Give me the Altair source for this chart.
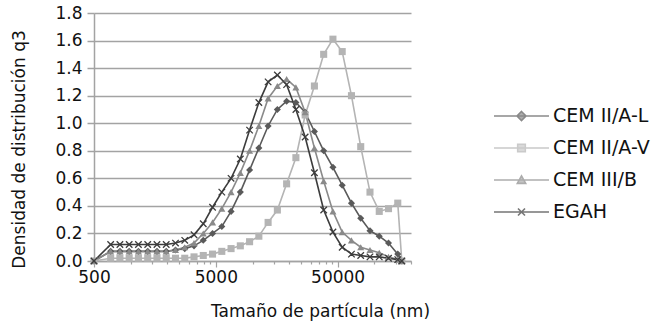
import altair as alt
import pandas as pd

# particle size (nm) - shared x grid
size_nm = [500, 685, 816, 972, 1158, 1380, 1644, 1958, 2333, 2779, 3311,
           3944, 4699, 5598, 6669, 7944, 9464, 11275, 13432, 16001, 19062,
           22709, 27053, 32228, 38394, 45738, 54488, 64912, 77330, 92123,
           109747, 130741, 155753, 168000]

series_names = ["CEM II/A-L", "CEM II/A-V", "CEM III/B", "EGAH"]

cem_ii_a_l = [0, 0.07, 0.07, 0.07, 0.07, 0.07, 0.07, 0.07, 0.08, 0.09, 0.11,
              0.15, 0.20, 0.25, 0.36, 0.50, 0.66, 0.82, 0.98, 1.10, 1.16,
              1.15, 1.08, 0.94, 0.80, 0.68, 0.55, 0.42, 0.31, 0.22, 0.18,
              0.13, 0.05, 0]
cem_ii_a_v = [0, 0.02, 0.02, 0.02, 0.02, 0.02, 0.02, 0.02, 0.02, 0.02, 0.03,
              0.04, 0.05, 0.07, 0.09, 0.11, 0.14, 0.18, 0.28, 0.37, 0.56,
              0.75, 1.06, 1.27, 1.50, 1.61, 1.52, 1.20, 0.83, 0.50, 0.36,
              0.38, 0.42, 0]
cem_iii_b = [0, 0.07, 0.07, 0.07, 0.07, 0.07, 0.07, 0.07, 0.08, 0.10, 0.13,
             0.20, 0.28, 0.38, 0.50, 0.64, 0.80, 0.98, 1.18, 1.27, 1.32,
             1.26, 1.08, 0.82, 0.58, 0.36, 0.21, 0.15, 0.10, 0.08, 0.06,
             0.03, 0.01, 0]
egah = [0, 0.12, 0.12, 0.12, 0.12, 0.12, 0.12, 0.12, 0.13, 0.15, 0.19,
        0.27, 0.39, 0.50, 0.60, 0.74, 0.95, 1.15, 1.30, 1.35, 1.28,
        1.10, 0.90, 0.64, 0.37, 0.21, 0.10, 0.05, 0.04, 0.03, 0.03,
        0.02, 0.01, 0]

colors = ["#5a5a5a", "#b4b4b4", "#8a8a8a", "#3c3c3c"]
marker_shapes = ["diamond", "square", "triangle-up", "M-1,-1L1,1M-1,1L1,-1"]
# legend symbols: a line with the marker in its middle (unit = 10 px)
legend_paths = [
    "M-1,0L4.5,0M1.75,-0.45L2.2,0L1.75,0.45L1.3,0Z",
    "M-1,0L4.5,0M1.37,-0.38L2.13,-0.38L2.13,0.38L1.37,0.38Z",
    "M-1,0L4.5,0M1.75,-0.42L2.17,0.34L1.33,0.34Z",
    "M-1,0L4.5,0M1.4,-0.35L2.1,0.35M1.4,0.35L2.1,-0.35",
]

major_ticks = [500, 5000, 50000]
minor_ticks = [1000, 1500, 2000, 2500, 3000, 3500, 4000, 4500,
               10000, 15000, 20000, 25000, 30000, 35000, 40000, 45000,
               100000, 150000, 200000]
y_ticks = [0, 0.2, 0.4, 0.6, 0.8, 1.0, 1.2, 1.4, 1.6, 1.8]

rows = []
for name, vals in zip(series_names, [cem_ii_a_l, cem_ii_a_v, cem_iii_b, egah]):
    for xv, yv in zip(size_nm, vals):
        rows.append({"serie": name, "size": xv, "q3": yv})
df = pd.DataFrame(rows)

# legend carrier rows: placed outside the x domain and clipped away
legend_df = pd.DataFrame({"serie": series_names, "size": [400000] * 4, "q3": [0.9] * 4})

grid_col = "#a3a3a3"
is_major = "indexof([500,5000,50000], datum.value) >= 0"

x_scale = alt.Scale(type="log", domain=[500, 200000], nice=False)
y_scale = alt.Scale(domain=[0, 1.8], nice=False)

x_axis = alt.Axis(
    title="Tamaño de partícula (nm)",
    values=major_ticks + minor_ticks,
    labelExpr=f"{is_major} ? format(datum.value, 'd') : ''",
    labelOverlap=False,
    labelFlush=False,
    labelFont="DejaVu Sans",
    labelFontSize=17,
    labelColor="#111111",
    labelPadding=2,
    tickSize={"condition": {"test": is_major, "value": 6}, "value": 3},
    tickColor=grid_col,
    tickWidth=1.2,
    domainColor=grid_col,
    domainWidth=1.5,
    grid=False,
    titleFont="DejaVu Sans",
    titleFontSize=17,
    titleFontWeight="normal",
    titleColor="#111111",
    titleX=226,
    titleY=55,
    titleBaseline="alphabetic",
)
y_axis = alt.Axis(
    title="Densidad de distribución q3",
    values=y_ticks,
    format=".1f",
    labelOverlap=False,
    labelFont="DejaVu Sans",
    labelFontSize=17,
    labelColor="#111111",
    labelPadding=5,
    tickSize=7,
    tickColor=grid_col,
    tickWidth=1.5,
    domainColor=grid_col,
    domainWidth=1.5,
    grid=True,
    gridColor=grid_col,
    gridWidth=1.5,
    titleFont="DejaVu Sans",
    titleFontSize=17,
    titleFontWeight="normal",
    titleColor="#111111",
    titleAngle=-90,
    titleX=-70,
    titleY=136,
    titleBaseline="alphabetic",
)


def xe():
    return alt.X("size:Q", scale=x_scale, axis=x_axis)


def ye():
    return alt.Y("q3:Q", scale=y_scale, axis=y_axis)


base = alt.Chart(df)

layers = []
for name, shp, col in zip(series_names, marker_shapes, colors):
    sub = base.transform_filter(alt.datum.serie == name)
    layers.append(sub.mark_line(strokeWidth=1.6, color=col).encode(x=xe(), y=ye()))
for name, shp, col in zip(series_names, marker_shapes, colors):
    is_x = shp.startswith("M")
    sub = base.transform_filter(alt.datum.serie == name)
    layers.append(sub.mark_point(
        shape=shp,
        filled=not is_x,
        size=42 if is_x else 50,
        color=col,
        opacity=1,
        strokeWidth=1.3 if is_x else 0,
    ).encode(x=xe(), y=ye()))

leg = alt.Legend(
    title=None,
    orient="none",
    legendX=399,
    legendY=92,
    symbolSize=400,
    symbolStrokeWidth=1.6,
    labelFont="DejaVu Sans",
    labelFontSize=19,
    labelColor="#111111",
    labelOffset=38,
    rowPadding=11,
)
legend_layer = alt.Chart(legend_df).mark_point(filled=True, clip=True).encode(
    x=xe(),
    y=ye(),
    shape=alt.Shape("serie:N", scale=alt.Scale(domain=series_names, range=legend_paths), legend=leg),
    fill=alt.Fill("serie:N", scale=alt.Scale(domain=series_names, range=colors), legend=leg),
    stroke=alt.Stroke("serie:N", scale=alt.Scale(domain=series_names, range=colors), legend=leg),
)
layers.append(legend_layer)

chart = alt.layer(*layers).properties(
    width=317,
    height=248,
    padding={"left": 94, "top": 13, "right": 258, "bottom": 62},
    autosize=alt.AutoSizeParams(type="none"),
    background="white",
).configure_view(stroke=None)

chart.save("out.html", embed_options={"renderer": "svg", "actions": False})
